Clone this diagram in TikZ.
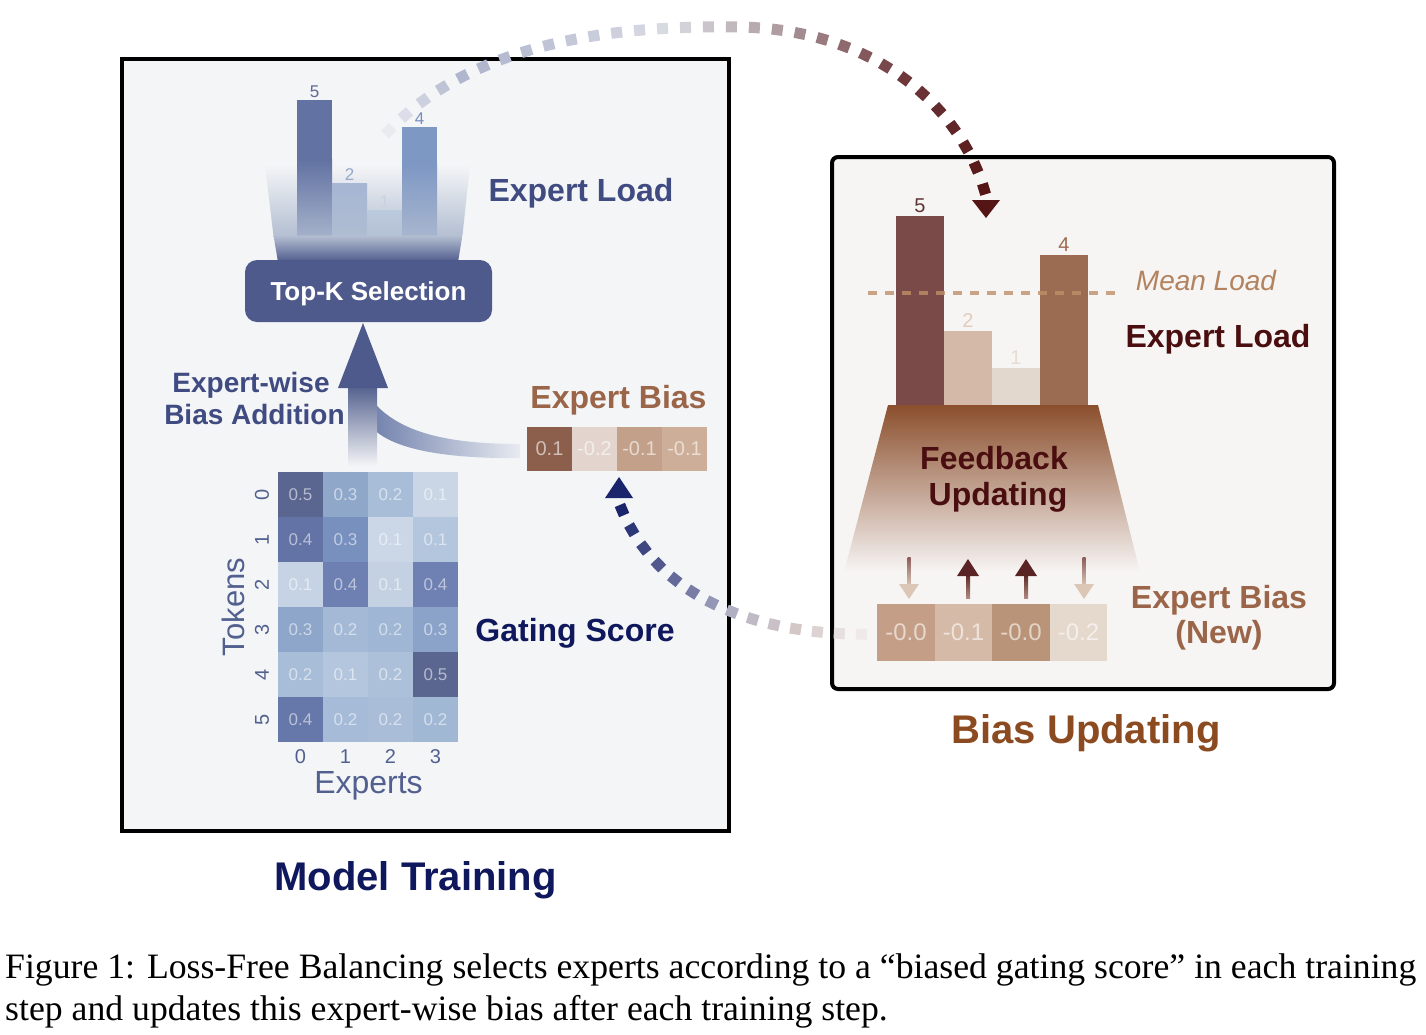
\documentclass[tikz,border=0pt]{standalone}
\usepackage{fontspec}
\usepackage{graphicx}
\setmainfont{Liberation Sans}
\newfontfamily\capfont{Liberation Serif}
\usetikzlibrary{decorations.markings}
\newcommand\FS[2]{\fontsize{#1}{#2}\selectfont}
% colours
\definecolor{lbg}{HTML}{F4F5F7}
\definecolor{rbg}{HTML}{F7F5F4}
\definecolor{navyT}{HTML}{0F185C}
\definecolor{slate}{HTML}{4F5A8C}
\definecolor{slateT}{HTML}{3F4B81}
\definecolor{axisT}{HTML}{52608F}
\definecolor{brownT}{HTML}{8C4A20}
\definecolor{biasT}{HTML}{9A6548}
\definecolor{maroonT}{HTML}{4A0E10}
\definecolor{fmid}{RGB}{180,191,210}
% top arc stops
\definecolor{ta0}{HTML}{EEF0F4}
\definecolor{ta1}{HTML}{AEB3CC}
\definecolor{ta2}{HTML}{D9DBE3}
\definecolor{ta3}{HTML}{B0A0A4}
\definecolor{ta4}{HTML}{6E383C}
\definecolor{ta5}{HTML}{551515}
% bottom arc stops
\definecolor{tb0}{HTML}{F1EDEB}
\definecolor{tb1}{HTML}{D2C6C6}
\definecolor{tb2}{HTML}{B9B6C8}
\definecolor{tb3}{HTML}{6E74A0}
\definecolor{tb4}{HTML}{1B256C}
\newcommand\mixstop[5]{%
  \pgfmathsetmacro\mixp{max(0,min(100,100*(#3-#1)/(#3-#2)))}%
  \colorlet{gc}{#4!\mixp!#5}}
% fraction measured from the far (start) end, paths are drawn from the arrowhead backwards
\newcommand\markfrac{%
  \pgfmathsetmacro\ff{1-\pgfkeysvalueof{/pgf/decoration/mark info/distance from start}/\pgfdecoratedpathlength}}
\newcommand\arcTopMark{%
  \markfrac
  \ifdim\ff pt<0.15pt \mixstop{\ff}{0}{0.15}{ta0}{ta1}\else
  \ifdim\ff pt<0.45pt \mixstop{\ff}{0.15}{0.45}{ta1}{ta2}\else
  \ifdim\ff pt<0.60pt \mixstop{\ff}{0.45}{0.60}{ta2}{ta3}\else
  \ifdim\ff pt<0.80pt \mixstop{\ff}{0.60}{0.80}{ta3}{ta4}\else
  \mixstop{\ff}{0.80}{1.0}{ta4}{ta5}\fi\fi\fi\fi
  \fill[gc] (-5.5pt,-5.5pt) rectangle (5.5pt,5.5pt);}
\newcommand\arcBotMark{%
  \markfrac
  \ifdim\ff pt<0.25pt \mixstop{\ff}{0}{0.25}{tb0}{tb1}\else
  \ifdim\ff pt<0.45pt \mixstop{\ff}{0.25}{0.45}{tb1}{tb2}\else
  \ifdim\ff pt<0.65pt \mixstop{\ff}{0.45}{0.65}{tb2}{tb3}\else
  \mixstop{\ff}{0.65}{1.0}{tb3}{tb4}\fi\fi\fi
  \fill[gc] (-5.5pt,-5.5pt) rectangle (5.5pt,5.5pt);}
\begin{document}
\begin{tikzpicture}[x=1pt,y=-1pt,
  panelbox/.style={draw=black, line width=4pt, inner sep=0pt},
  hcell/.style={minimum width=45pt, minimum height=45pt, inner sep=0pt, text=white, text opacity=0.55, font=\FS{17}{20}},
  bcell/.style={minimum width=45pt, minimum height=44pt, inner sep=0pt, text=white, text opacity=0.6, font=\FS{20}{24}},
  nbcell/.style={minimum width=57.5pt, minimum height=57pt, inner sep=0pt, text=white, text opacity=0.6, font=\FS{24}{28}},
  tick/.style={text=axisT, font=\FS{20}{24}, inner sep=0pt},
  btitle/.style={font=\FS{32}{38}\bfseries, inner sep=0pt, anchor=base},
]
\useasboundingbox (0,0) rectangle (1426,1034);
\fill[white] (0,0) rectangle (1426,1034);

% ---------- panels ----------
\node[panelbox, fill=lbg, minimum width=607pt, minimum height=772pt] (lp) at (425.5,445) {};
\node[panelbox, fill=rbg, minimum width=502pt, minimum height=532pt, rounded corners=6pt] (rp) at (1083,423) {};

% ---------- left: expert load bars + funnel ----------
\shade[top color=lbg, bottom color=fmid] (265,165) -- (470,165) -- (462.4,236) -- (273.5,236) -- cycle;
% bar 5
\fill[fill={rgb,255:red,98;green,114;blue,162}] (297,100) rectangle (332,160);
\shade[top color={rgb,255:red,98;green,114;blue,162}, bottom color={rgb,255:red,168;green,180;blue,204}] (297,159.5) rectangle (332,240);
% bar 2
\shade[top color={rgb,255:red,166;green,182;blue,211}, bottom color={rgb,255:red,176;green,189;blue,210}] (332,183) rectangle (367,240);
% bar 1
\shade[top color={rgb,255:red,188;green,202;blue,221}, bottom color={rgb,255:red,180;green,192;blue,211}] (367,210) rectangle (402,240);
% bar 4
\fill[fill={rgb,255:red,126;green,152;blue,196}] (402,127) rectangle (437,165);
\shade[top color={rgb,255:red,126;green,152;blue,196}, bottom color={rgb,255:red,170;green,183;blue,207}] (402,164.5) rectangle (437,240);
% dark band
\shade[top color=fmid, middle color={rgb,255:red,150;green,162;blue,190}, bottom color=slate] (273.5,235.5) -- (462.4,235.5) -- (458,262) -- (278,262) -- cycle;
\node[text={rgb,255:red,92;green,106;blue,150}, font=\FS{17}{20}, anchor=base] (l5) at (314.5,97) {5};
\node[text={rgb,255:red,150;green,168;blue,205}, font=\FS{17}{20}, anchor=base] (l2) at (349.5,180) {2};
\node[text={rgb,255:red,200;green,210;blue,225}, font=\FS{17}{20}, anchor=base] (l1) at (384.5,207) {1};
\node[text={rgb,255:red,118;green,142;blue,190}, font=\FS{17}{20}, anchor=base] (l4) at (419.5,124) {4};

\node[btitle, text=slateT] (eloadL) at (581,201) {Expert Load};

\node[fill=slate, rounded corners=12pt, minimum width=247pt, minimum height=62pt, text depth=0pt, text=white, font=\FS{26}{30}\bfseries] (topk) at (368.5,291) {Top-K Selection};

% ---------- bias addition arrows ----------
\shade[left color={rgb,255:red,112;green,128;blue,172}, right color={rgb,255:red,232;green,235;blue,241}]
  (370,398) .. controls (395,430) and (440,444) .. (520,444) -- (520,458) .. controls (430,459) and (385,445) .. (370,425) -- cycle;
\shade[top color={rgb,255:red,84;green,97;blue,142}, middle color={rgb,255:red,134;green,150;blue,190}, bottom color=lbg] (348,386) rectangle (377,466);
\fill[slate] (338,388) -- (363,323) -- (388,388) -- cycle;
\coordinate (biasSrc) at (520,451);

\node[btitle, font=\FS{28}{32}\bfseries, text=slateT] (ewa) at (251,392) {Expert-wise};
\node[btitle, font=\FS{28}{32}\bfseries, text=slateT] (ewb) at (254.5,424) {Bias Addition};

% ---------- expert bias (old) ----------
\node[btitle, text=biasT] (ebias) at (618.5,408) {Expert Bias};
\node[bcell, fill={rgb,255:red,139;green,95;blue,76}] (b0) at (549.5,448.5) {0.1};
\node[bcell, fill={rgb,255:red,227;green,213;blue,205}] (b1) at (594.5,448.5) {-0.2};
\node[bcell, fill={rgb,255:red,195;green,160;blue,138}] (b2) at (639.5,448.5) {-0.1};
\node[bcell, fill={rgb,255:red,205;green,174;blue,152}] (b3) at (684.5,448.5) {-0.1};

% ---------- heatmap ----------
\foreach \r/\c/\v/\col in {
 0/0/0.5/5B6690, 0/1/0.3/8FA8CA, 0/2/0.2/A8BED8, 0/3/0.1/CAD6E6,
 1/0/0.4/6373A5, 1/1/0.3/7890BE, 1/2/0.1/CBD7E7, 1/3/0.1/B3C6DD,
 2/0/0.1/C6D3E4, 2/1/0.4/6E7FB1, 2/2/0.1/C3D1E3, 2/3/0.4/6F80B2,
 3/0/0.3/8EA6CA, 3/1/0.2/A3B9D6, 3/2/0.2/9FB6D4, 3/3/0.3/8BA3C8,
 4/0/0.2/A8BDD8, 4/1/0.1/B4C6DD, 4/2/0.2/ACC0DA, 4/3/0.5/5B6690,
 5/0/0.4/6677A9, 5/1/0.2/A6BBD7, 5/2/0.2/A9BDD8, 5/3/0.2/A1B8D5}{
  \definecolor{hc}{HTML}{\col}
  \node[hcell, fill=hc] (h\r\c) at (300.5+45*\c,494.5+45*\r) {\v};
}
\foreach \i in {0,...,5}{
  \node[tick, rotate=90] (tr\i) at (262,494.5+45*\i) {\i};
}
\foreach \i in {0,...,3}{
  \node[tick, anchor=base] (tc\i) at (300.5+45*\i,763) {\i};
}
\node[text=axisT, font=\FS{31}{36}, rotate=90, inner sep=0pt] (tokens) at (233,607) {Tokens};
\node[text=axisT, font=\FS{32}{38}, anchor=base, inner sep=0pt] (experts) at (368.5,793) {Experts};
\node[btitle, text=navyT] (gating) at (575,641) {Gating Score};

% ---------- titles ----------
\node[btitle, font=\FS{40}{48}\bfseries, text=navyT] (mt) at (415.5,890) {Model Training};
\node[btitle, font=\FS{40}{48}\bfseries, text=brownT] (bu) at (1086,743) {Bias Updating};

% ---------- right panel ----------
\fill[fill={rgb,255:red,122;green,74;blue,72}] (896,216) rectangle (944,406);
\fill[fill={rgb,255:red,212;green,184;blue,168}] (944,331) rectangle (992,406);
\fill[fill={rgb,255:red,226;green,216;blue,206}] (992,368) rectangle (1040,406);
\fill[fill={rgb,255:red,156;green,108;blue,82}] (1040,255) rectangle (1088,406);
\node[text={rgb,255:red,92;green,52;blue,52}, font=\FS{20}{24}, anchor=base] (r5) at (920,212) {5};
\node[text={rgb,255:red,226;green,204;blue,188}, font=\FS{20}{24}, anchor=base] (r2) at (968,327) {2};
\node[text={rgb,255:red,230;green,220;blue,210}, font=\FS{20}{24}, anchor=base] (r1) at (1016,364) {1};
\node[text={rgb,255:red,156;green,106;blue,80}, font=\FS{20}{24}, anchor=base] (r4) at (1064,251) {4};
\coordinate (meanL) at (868,293);
\coordinate (meanR) at (1115,293);
\draw[color={rgb,255:red,191;green,142;blue,104}, opacity=0.8, line width=3.5pt, dash pattern=on 9pt off 8pt] (meanL) -- (meanR);
\node[text={rgb,255:red,179;green,130;blue,94}, font=\FS{28}{32}\itshape, anchor=base, inner sep=0pt] (meanT) at (1206,290) {Mean Load};
\node[btitle, text=maroonT] (eloadR) at (1218,347) {Expert Load};

% feedback trapezoid
\shade[top color={rgb,255:red,139;green,79;blue,45}, middle color={rgb,255:red,214;green,187;blue,168}, bottom color=rbg] (888,405) -- (1098,405) -- (1140,572) -- (844,572) -- cycle;
\node[btitle, text=maroonT] (fb1) at (994,469) {Feedback};
\node[btitle, text=maroonT] (fb2) at (998,505) {Updating};

% small arrows
\foreach \x in {909,1084}{
  \shade[top color={rgb,255:red,138;green,90;blue,88}, bottom color={rgb,255:red,217;green,195;blue,180}] (\x-1.5,557) rectangle (\x+1.5,585);
  \fill[fill={rgb,255:red,220;green,198;blue,182}] (\x-10,584) -- (\x+10,584) -- (\x,599) -- cycle;
}
\foreach \x in {968,1026}{
  \shade[top color={rgb,255:red,90;green,36;blue,36}, bottom color={rgb,255:red,176;green,138;blue,128}] (\x-2,574) rectangle (\x+2,598);
  \fill[fill={rgb,255:red,90;green,36;blue,36}] (\x-11,576) -- (\x+11,576) -- (\x,559) -- cycle;
}

% new bias
\node[nbcell, fill={rgb,255:red,196;green,158;blue,134}] (n0) at (906,632.5) {-0.0};
\node[nbcell, fill={rgb,255:red,214;green,186;blue,168}] (n1) at (963.5,632.5) {-0.1};
\node[nbcell, fill={rgb,255:red,186;green,148;blue,120}] (n2) at (1021,632.5) {-0.0};
\node[nbcell, fill={rgb,255:red,229;green,216;blue,204}] (n3) at (1078.5,632.5) {-0.2};
\node[btitle, text=biasT] (nb1) at (1219,608) {Expert Bias};
\node[btitle, text=biasT] (nb2) at (1219,643) {(New)};

% ---------- dotted connectors (drawn from arrowhead end backwards) ----------
\coordinate (arcS) at (383,137);
\coordinate (arcM) at (740,27);
\coordinate (arcE) at (984,189);
\path[postaction={decorate}, decoration={markings, mark=between positions 0 and 1 step 23pt with {\arcTopMark}}]
  (arcE) .. controls (960,110) and (880,30) .. (arcM) .. controls (620,25) and (470,40) .. (arcS);
\fill[fill={rgb,255:red,85;green,21;blue,21}] (972,200) -- (1000,200) -- (986,218) -- cycle;

\coordinate (botS) at (866,634);
\coordinate (botE) at (622,510);
\path[postaction={decorate}, decoration={markings, mark=between positions 0 and 1 step 22pt with {\arcBotMark}}]
  (botE) .. controls (660,600) and (760,635) .. (botS);
\fill[fill={rgb,255:red,27;green,37;blue,108}] (605,498) -- (633,498) -- (619,477) -- cycle;

% ---------- caption ----------
\node[anchor=base west, inner sep=0pt] (cap) at (5,978) {\resizebox{1411pt}{!}{\capfont\begin{tabular}[t]{@{}l@{}}Figure 1: Loss-Free Balancing selects experts according to a “biased gating score” in each training\\ step and updates this expert-wise bias after each training step.\end{tabular}}};
\end{tikzpicture}
\end{document}
